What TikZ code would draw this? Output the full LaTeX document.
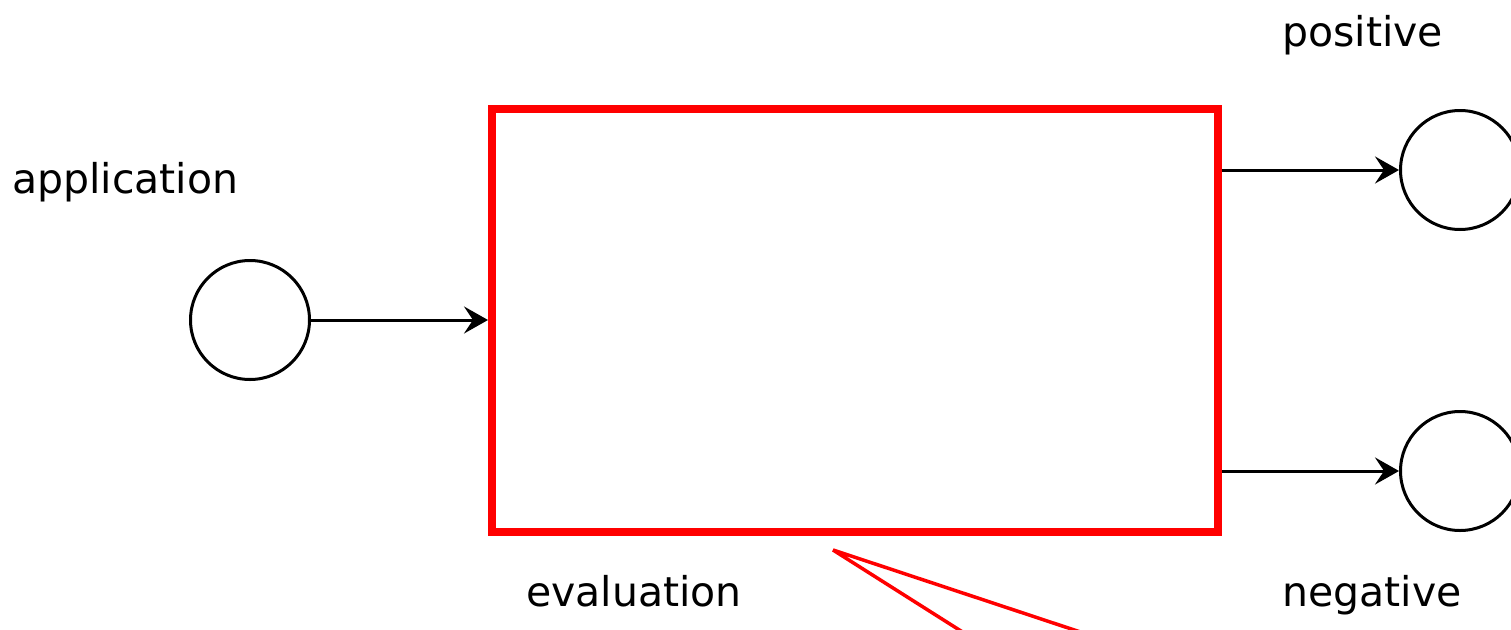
\documentclass[tikz,border=0pt]{standalone}
\usepackage{fontspec}
\setmainfont{DejaVu Sans}
\usetikzlibrary{arrows.meta}
\begin{document}
\begin{tikzpicture}[x=1pt,y=-1pt,
  lbl/.style={anchor=base west,inner sep=0pt,font=\fontsize{41}{49}\selectfont},
  place/.style={circle,draw=black,line width=3pt,minimum size=119pt,inner sep=0pt},
  arr/.style={line width=3pt,-{Stealth[length=24pt,width=27pt,inset=9pt]}},
  redbox/.style={draw=red,line width=8pt,minimum width=726pt,minimum height=423pt,inner sep=0pt},
  redline/.style={draw=red,line width=3.5pt,line join=bevel}]
\useasboundingbox (0,0) rectangle (1511,629);
\clip (0,0) rectangle (1511,629);
\fill[white] (0,0) rectangle (1511,629);
\node[redbox] (box) at (855,320.5) {};
\node[place] (app) at (250,320) {};
\node[place] (pos) at (1460,170) {};
\node[place] (neg) at (1460,471) {};
\draw[arr] (app) -- (box.west |- app);
\draw[arr] (box.east |- pos) -- (pos);
\draw[arr] (box.east |- neg) -- (neg);
\coordinate (apex) at (833,550);
\coordinate (e1) at (1021,669);
\coordinate (e2) at (1192,669);
\draw[redline] (e1) -- (apex) -- (e2);
\node[lbl] (tapp) at (12,193) {application};
\node[lbl] (tpos) at (1282,46) {positive};
\node[lbl] (teval) at (526,606) {evaluation};
\node[lbl] (tneg) at (1282,606) {negative};
\end{tikzpicture}
\end{document}
